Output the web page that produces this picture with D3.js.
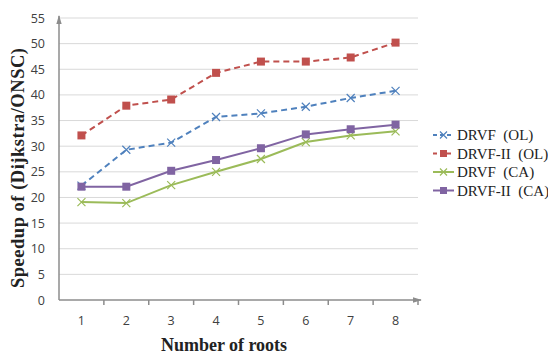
<!DOCTYPE html>
<html>
<head>
<meta charset="utf-8">
<script src="https://cdn.jsdelivr.net/npm/d3@7"></script>
<style>
  body { margin: 0; background: #fff; }
  svg { display: block; }
</style>
</head>
<body>
<svg id="chart" width="548" height="354"></svg>
<script>
const roots = [1, 2, 3, 4, 5, 6, 7, 8];
const yTicks = [0, 5, 10, 15, 20, 25, 30, 35, 40, 45, 50, 55];

const drvfOL = [22.3, 29.3, 30.7, 35.7, 36.4, 37.7, 39.4, 40.8];
const drvfIIOL = [32.1, 37.9, 39.1, 44.3, 46.5, 46.5, 47.3, 50.2];
const drvfCA = [19.1, 18.9, 22.4, 25.0, 27.5, 30.8, 32.1, 32.9];
const drvfIICA = [22.1, 22.1, 25.2, 27.3, 29.6, 32.3, 33.3, 34.2];

const seriesNames = ['DRVF  (OL)', 'DRVF-II  (OL)', 'DRVF  (CA)', 'DRVF-II  (CA)'];

const series = [
  { name: seriesNames[0], values: drvfOL, color: '#4f81bd', dash: '6,4', marker: 'x' },
  { name: seriesNames[1], values: drvfIIOL, color: '#c0504d', dash: '6,4', marker: 'square' },
  { name: seriesNames[2], values: drvfCA, color: '#9bbb59', dash: null, marker: 'x' },
  { name: seriesNames[3], values: drvfIICA, color: '#8064a2', dash: null, marker: 'square' },
];

const margin = { top: 18, right: 130, bottom: 54, left: 59 };
const width = 548, height = 354;
const svg = d3.select('#chart');

const x = d3.scaleBand()
  .domain(roots)
  .range([margin.left, width - margin.right]);

const y = d3.scaleLinear()
  .domain([0, 55])
  .range([height - margin.bottom, margin.top]);

// grid
svg.append('g')
  .selectAll('line')
  .data(yTicks.filter(d => d > 0))
  .join('line')
  .attr('x1', margin.left)
  .attr('x2', width - margin.right)
  .attr('y1', d => y(d))
  .attr('y2', d => y(d))
  .attr('stroke', '#d9d9d9')
  .attr('stroke-width', 1);

// arrow heads
svg.append('defs').append('marker')
  .attr('id', 'arrow')
  .attr('viewBox', '0 0 10 10')
  .attr('refX', 9).attr('refY', 5)
  .attr('markerWidth', 6).attr('markerHeight', 6)
  .attr('orient', 'auto')
  .append('path')
  .attr('d', 'M0,2 L10,5 L0,8 Z')
  .attr('fill', '#8c8c8c');

// y axis
const yAxis = svg.append('g')
  .attr('transform', `translate(${margin.left},0)`)
  .call(d3.axisLeft(y).tickValues(yTicks).tickSize(0).tickPadding(14));
yAxis.select('.domain').remove();
yAxis.selectAll('text')
  .attr('font-family', 'Open Sans, Noto Sans, sans-serif')
  .attr('font-size', 12.5)
  .attr('fill', '#404040');

svg.append('line')
  .attr('x1', margin.left).attr('x2', margin.left)
  .attr('y1', y(0)).attr('y2', y(55) - 2)
  .attr('stroke', '#8c8c8c')
  .attr('stroke-width', 1.5)
  .attr('marker-end', 'url(#arrow)');

// x axis
const xAxis = svg.append('g')
  .attr('transform', `translate(0,${y(0)})`)
  .call(d3.axisBottom(x).tickSize(0).tickPadding(16));
xAxis.select('.domain').remove();
xAxis.selectAll('text')
  .attr('font-family', 'Open Sans, Noto Sans, sans-serif')
  .attr('font-size', 12.5)
  .attr('fill', '#404040');

svg.append('g')
  .selectAll('line')
  .data(roots)
  .join('line')
  .attr('x1', d => x(d) + x.bandwidth())
  .attr('x2', d => x(d) + x.bandwidth())
  .attr('y1', y(0))
  .attr('y2', y(0) + 5)
  .attr('stroke', '#8c8c8c')
  .attr('stroke-width', 1.5);

svg.append('line')
  .attr('x1', margin.left).attr('x2', width - margin.right + 3)
  .attr('y1', y(0)).attr('y2', y(0))
  .attr('stroke', '#8c8c8c')
  .attr('stroke-width', 1.5)
  .attr('marker-end', 'url(#arrow)');

// lines
const cx = d => x(d) + x.bandwidth() / 2;
const line = d3.line()
  .x((d, i) => cx(roots[i]))
  .y(d => y(d));

const drawMarker = (g, type, color, px, py, r = 4) => {
  if (type === 'square') {
    g.append('rect')
      .attr('x', px - r).attr('y', py - r)
      .attr('width', 2 * r).attr('height', 2 * r)
      .attr('fill', color);
  } else {
    g.append('path')
      .attr('d', `M${px - r},${py - r}L${px + r},${py + r}M${px - r},${py + r}L${px + r},${py - r}`)
      .attr('stroke', color)
      .attr('stroke-width', 1.2)
      .attr('fill', 'none');
  }
};

series.forEach(s => {
  const g = svg.append('g');
  g.append('path')
    .datum(s.values)
    .attr('fill', 'none')
    .attr('stroke', s.color)
    .attr('stroke-width', 2)
    .attr('stroke-dasharray', s.dash)
    .attr('d', line);
  s.values.forEach((v, i) => drawMarker(g, s.marker, s.color, cx(roots[i]), y(v)));
});

// legend
const legend = svg.append('g');
series.forEach((s, i) => {
  const ly = 135 + i * 18.5;
  const g = legend.append('g');
  g.append('line')
    .attr('x1', 433).attr('x2', 454)
    .attr('y1', ly).attr('y2', ly)
    .attr('stroke', s.color)
    .attr('stroke-width', 2)
    .attr('stroke-dasharray', s.dash ? '4,3' : null);
  drawMarker(g, s.marker, s.color, 443.5, ly, 3.5);
  g.append('text')
    .attr('x', 457)
    .attr('y', ly + 5)
    .attr('font-family', 'Liberation Serif, serif')
    .attr('font-size', 15)
    .attr('fill', '#222')
    .attr('xml:space', 'preserve')
    .text(s.name);
});

// axis titles
svg.append('text')
  .attr('x', 224)
  .attr('y', 351)
  .attr('text-anchor', 'middle')
  .attr('font-family', 'Liberation Serif, serif')
  .attr('font-weight', 'bold')
  .attr('font-size', 18)
  .attr('fill', '#222')
  .attr('textLength', 126)
  .text('Number of roots');

svg.append('text')
  .attr('transform', 'translate(24,168) rotate(-90)')
  .attr('text-anchor', 'middle')
  .attr('font-family', 'Liberation Serif, serif')
  .attr('font-weight', 'bold')
  .attr('font-size', 18.5)
  .attr('fill', '#222')
  .attr('textLength', 240)
  .text('Speedup of (Dijkstra/ONSC)');
</script>
</body>
</html>
